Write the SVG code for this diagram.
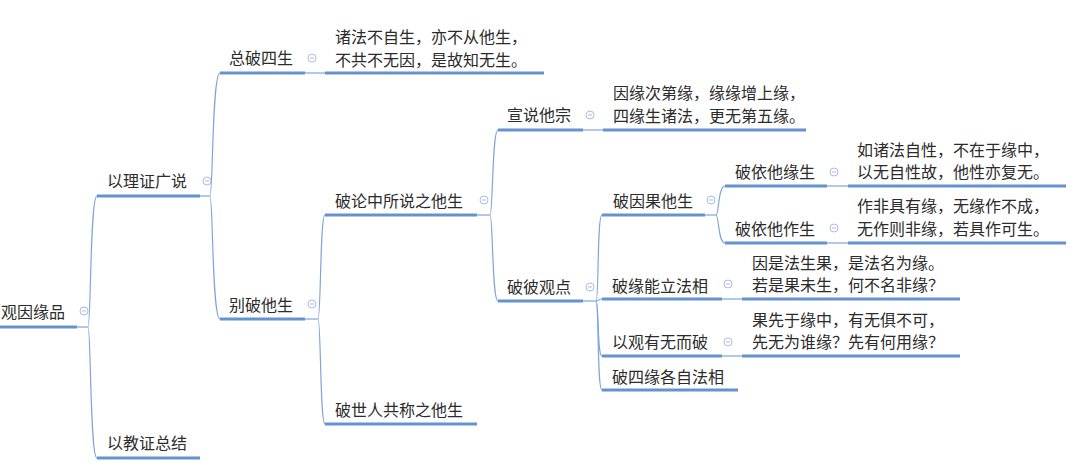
<svg xmlns="http://www.w3.org/2000/svg" width="1080" height="467" viewBox="0 0 1080 467">
<style>
text{font-family:"Noto Sans CJK SC","Noto Sans",sans-serif;font-size:16px;fill:#2b2b2b}
.u{stroke:#6592d0;stroke-width:3;fill:none}
.c{stroke:#7ea6d9;stroke-width:1.2;fill:none}
.t{stroke:#a9bde0;stroke-width:1;fill:#fff}
</style>
<defs>
<g id="tog"><circle r="4" class="t"/><path d="M-2 0H2" stroke="#a9bde0" stroke-width="1"/></g>
</defs>
<rect width="1080" height="467" fill="#fff"/>
<g id="connectors" class="c">
<path d="M77 327H88"/>
<path d="M88 327C91 327 90 196 97 196"/>
<path d="M88 327C91 327 90 458 97 458"/>
<path d="M200 196H210"/>
<path d="M210 196C213 196 212 73 220 73"/>
<path d="M210 196C213 196 212 319 220 319"/>
<path d="M305 73H325"/>
<path d="M305 319H318"/>
<path d="M318 319C321 319 320 215 325 215"/>
<path d="M318 319C321 319 320 424 325 424"/>
<path d="M477 215H490"/>
<path d="M490 215C493 215 492 130 498 130"/>
<path d="M490 215C493 215 492 301 498 301"/>
<path d="M583 130H603"/>
<path d="M583 301H596"/>
<path d="M596 301C599 301 597 215 602 215"/>
<path d="M596 301C599 301 598 299 602 299"/>
<path d="M596 301C599 301 597 356 602 356"/>
<path d="M596 301C599 301 597 390 602 390"/>
<path d="M705 215H716"/>
<path d="M716 215C719 215 718 186 725 186"/>
<path d="M716 215C719 215 718 243 725 243"/>
<path d="M827 186H848"/>
<path d="M827 243H848"/>
<path d="M722 299H742"/>
<path d="M722 356H742"/>
</g>
<g id="n-root"><text x="1" y="318">观因缘品</text><path class="u" d="M0 327H77"/><use href="#tog" x="84" y="311"/></g>
<g id="n-lizheng"><text x="107" y="187">以理证广说</text><path class="u" d="M97 196H200"/><use href="#tog" x="207" y="181"/></g>
<g id="n-jiaozheng"><text x="107" y="449">以教证总结</text><path class="u" d="M97 458H200"/></g>
<g id="n-zongpo"><text x="229" y="64">总破四生</text><path class="u" d="M220 73H305"/><use href="#tog" x="312" y="58"/></g>
<g id="n-zongpo-v"><text x="335" y="43">诸法不自生，亦不从他生，</text><text x="335" y="66">不共不无因，是故知无生。</text><path class="u" d="M325 73H544"/></g>
<g id="n-biepo"><text x="229" y="311">别破他生</text><path class="u" d="M220 319H305"/><use href="#tog" x="312" y="304"/></g>
<g id="n-polun"><text x="335" y="207">破论中所说之他生</text><path class="u" d="M325 215H477"/><use href="#tog" x="484" y="200"/></g>
<g id="n-poshi"><text x="335" y="416">破世人共称之他生</text><path class="u" d="M325 424H477"/></g>
<g id="n-xuanshuo"><text x="507" y="121">宣说他宗</text><path class="u" d="M498 130H583"/><use href="#tog" x="590" y="115"/></g>
<g id="n-xuanshuo-v"><text x="613" y="99">因缘次第缘，缘缘增上缘，</text><text x="613" y="122">四缘生诸法，更无第五缘。</text><path class="u" d="M603 130H806"/></g>
<g id="n-pobi"><text x="507" y="293">破彼观点</text><path class="u" d="M498 301H583"/><use href="#tog" x="590" y="287"/></g>
<g id="n-poyinguo"><text x="613" y="207">破因果他生</text><path class="u" d="M602 215H705"/><use href="#tog" x="711" y="200"/></g>
<g id="n-poyiyuan"><text x="735" y="178">破依他缘生</text><path class="u" d="M725 186H827"/><use href="#tog" x="834" y="172"/></g>
<g id="n-poyiyuan-v"><text x="857" y="156">如诸法自性，不在于缘中，</text><text x="857" y="178">以无自性故，他性亦复无。</text><path class="u" d="M848 186H1066"/></g>
<g id="n-poyizuo"><text x="735" y="235">破依他作生</text><path class="u" d="M725 243H827"/><use href="#tog" x="834" y="228"/></g>
<g id="n-poyizuo-v"><text x="857" y="212">作非具有缘，无缘作不成，</text><text x="857" y="235">无作则非缘，若具作可生。</text><path class="u" d="M848 243H1066"/></g>
<g id="n-poyuanneng"><text x="612" y="292">破缘能立法相</text><path class="u" d="M602 299H722"/><use href="#tog" x="728" y="284"/></g>
<g id="n-poyuanneng-v"><text x="752" y="269">因是法生果，是法名为缘。</text><text x="752" y="291">若是果未生，何不名非缘？</text><path class="u" d="M742 299H960"/></g>
<g id="n-yiguan"><text x="612" y="348">以观有无而破</text><path class="u" d="M602 356H722"/><use href="#tog" x="728" y="342"/></g>
<g id="n-yiguan-v"><text x="752" y="326">果先于缘中，有无俱不可，</text><text x="752" y="348">先无为谁缘？先有何用缘？</text><path class="u" d="M742 356H960"/></g>
<g id="n-posiyuan"><text x="612" y="383">破四缘各自法相</text><path class="u" d="M602 390H738"/></g>
</svg>
